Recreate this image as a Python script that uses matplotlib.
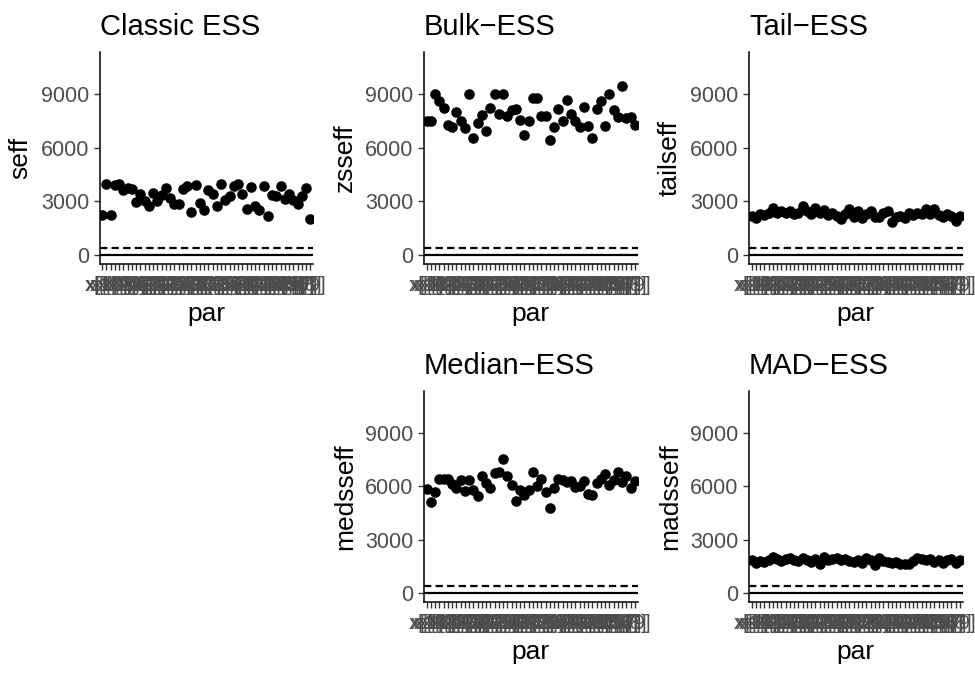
import matplotlib
matplotlib.use("Agg")
import matplotlib.pyplot as plt

plt.rcParams['font.family'] = ['Liberation Sans', 'DejaVu Sans']

par = ["x[1]", "x[10]", "x[11]", "x[12]", "x[13]", "x[14]", "x[15]", "x[16]", "x[17]", "x[18]",
       "x[19]", "x[2]", "x[20]", "x[21]", "x[22]", "x[23]", "x[24]", "x[25]", "x[26]", "x[27]",
       "x[28]", "x[29]", "x[3]", "x[30]", "x[31]", "x[32]", "x[33]", "x[34]", "x[35]", "x[36]",
       "x[37]", "x[38]", "x[39]", "x[4]", "x[40]", "x[41]", "x[42]", "x[43]", "x[44]", "x[45]",
       "x[46]", "x[47]", "x[48]", "x[49]", "x[5]", "x[50]", "x[6]", "x[7]", "x[8]", "x[9]"]

seff = [2212, 3994, 2212, 3900, 3994, 3656, 3750, 3712, 2944, 3431,
        3000, 2719, 3469, 3000, 3375, 3750, 3187, 2850, 2869, 3712,
        3881, 2381, 3919, 2906, 2494, 3656, 3431, 2719, 3994, 3056,
        3281, 3844, 3994, 3431, 2569, 3806, 2719, 2494, 3844, 2194,
        3375, 3281, 3844, 3131, 3431, 3056, 2869, 3319, 3750, 2006]

zsseff = [7518, 7518, 9000, 8630, 8259, 7296, 7148, 8037, 7518, 7111,
          9000, 6555, 7370, 7852, 6926, 8259, 9000, 7889, 9000, 7796,
          8111, 8185, 7556, 6722, 7518, 8778, 8778, 7796, 7778, 6444,
          7185, 8167, 7481, 8667, 7926, 7518, 7148, 8315, 7241, 6555,
          8167, 8630, 7204, 9037, 8111, 7741, 9444, 7648, 7759, 7296]

tailseff = [2186, 2056, 2280, 2240, 2370, 2650, 2370, 2430, 2316, 2430,
            2280, 2370, 2740, 2460, 2280, 2610, 2370, 2500, 2240, 2370,
            2186, 2000, 2280, 2556, 2094, 2430, 2056, 2280, 2460, 2130,
            2094, 2316, 2460, 1816, 2130, 2186, 2056, 2316, 2240, 2370,
            2280, 2556, 2280, 2556, 2240, 2094, 2280, 2186, 1908, 2186]

medsseff = [5850, 5140, 5663, 6430, 6430, 6411, 6150, 5907, 6337, 5720,
            6337, 5776, 5440, 6561, 6187, 5907, 6748, 6804, 7533, 6598,
            6093, 5196, 5813, 5532, 5776, 6804, 6000, 6411, 5663, 4766,
            5907, 6411, 6374, 6224, 6280, 5963, 6000, 6280, 5589, 5532,
            6187, 6411, 6673, 6093, 6374, 6823, 6224, 6561, 5926, 6280]

madsseff = [1850, 1700, 1800, 1750, 1850, 2000, 1900, 1800, 1900, 1950,
            1850, 1800, 1950, 1850, 1750, 1900, 1650, 2000, 1850, 1900,
            1950, 1850, 1900, 1800, 1750, 1850, 1700, 1950, 1850, 1550,
            1950, 1800, 1750, 1700, 1750, 1650, 1600, 1650, 1800, 1950,
            1900, 1850, 1900, 1750, 1850, 1700, 1850, 1900, 1700, 1850]

titles = ["Classic ESS", "Bulk\u2212ESS", "Tail\u2212ESS", "Median\u2212ESS", "MAD\u2212ESS"]
ylabels = ["seff", "zsseff", "tailseff", "medsseff", "madsseff"]
series = [seff, zsseff, tailseff, medsseff, madsseff]
yticks = [0, 3000, 6000, 9000]
threshold = 400

W, H = 975, 675
fig = plt.figure(figsize=(W / 100, H / 100), dpi=100)

col_x = [99.5, 424, 749]
pw = 213.5
row_y = [(52, 264), (391, 602)]
slots = [(0, 0), (0, 1), (0, 2), (1, 1), (1, 2)]

n = len(par)
for (r, c), title, ylab, vals in zip(slots, titles, ylabels, series):
    x0 = col_x[c]
    top, bot = row_y[r]
    ax = fig.add_axes([x0 / W, 1 - bot / H, pw / W, (bot - top) / H])
    xs = list(range(n))
    ax.axhline(0, color='black', lw=1.6, zorder=1)
    ax.axhline(threshold, color='black', lw=1.6, ls=(0, (3.3, 1.9)), zorder=1)
    ax.scatter(xs, vals, s=58, color='black', linewidths=0, zorder=3)
    ax.set_xlim(-0.6, n - 1 + 0.6)
    ax.set_ylim(-520, 11380)
    ax.set_xticks(xs)
    ax.set_xticklabels(par, fontsize=14.5, color='#4D4D4D')
    ax.set_yticks(yticks)
    ax.set_yticklabels([str(v) for v in yticks], fontsize=15.5, color='#4D4D4D')
    ax.tick_params(axis='both', length=4.5, width=1.0, color='#333333', pad=3)
    ax.tick_params(axis='x', pad=4)
    for s in ['top', 'right']:
        ax.spines[s].set_visible(False)
    for s in ['left', 'bottom']:
        ax.spines[s].set_linewidth(1.1)
        ax.spines[s].set_color('black')
    ax.set_title(title, loc='left', fontsize=21, pad=12)
    ax.set_xlabel('par', fontsize=19, labelpad=5)
    ax.set_ylabel(ylab, fontsize=19, labelpad=6)

fig.savefig('out.png', dpi=100, facecolor='white')
